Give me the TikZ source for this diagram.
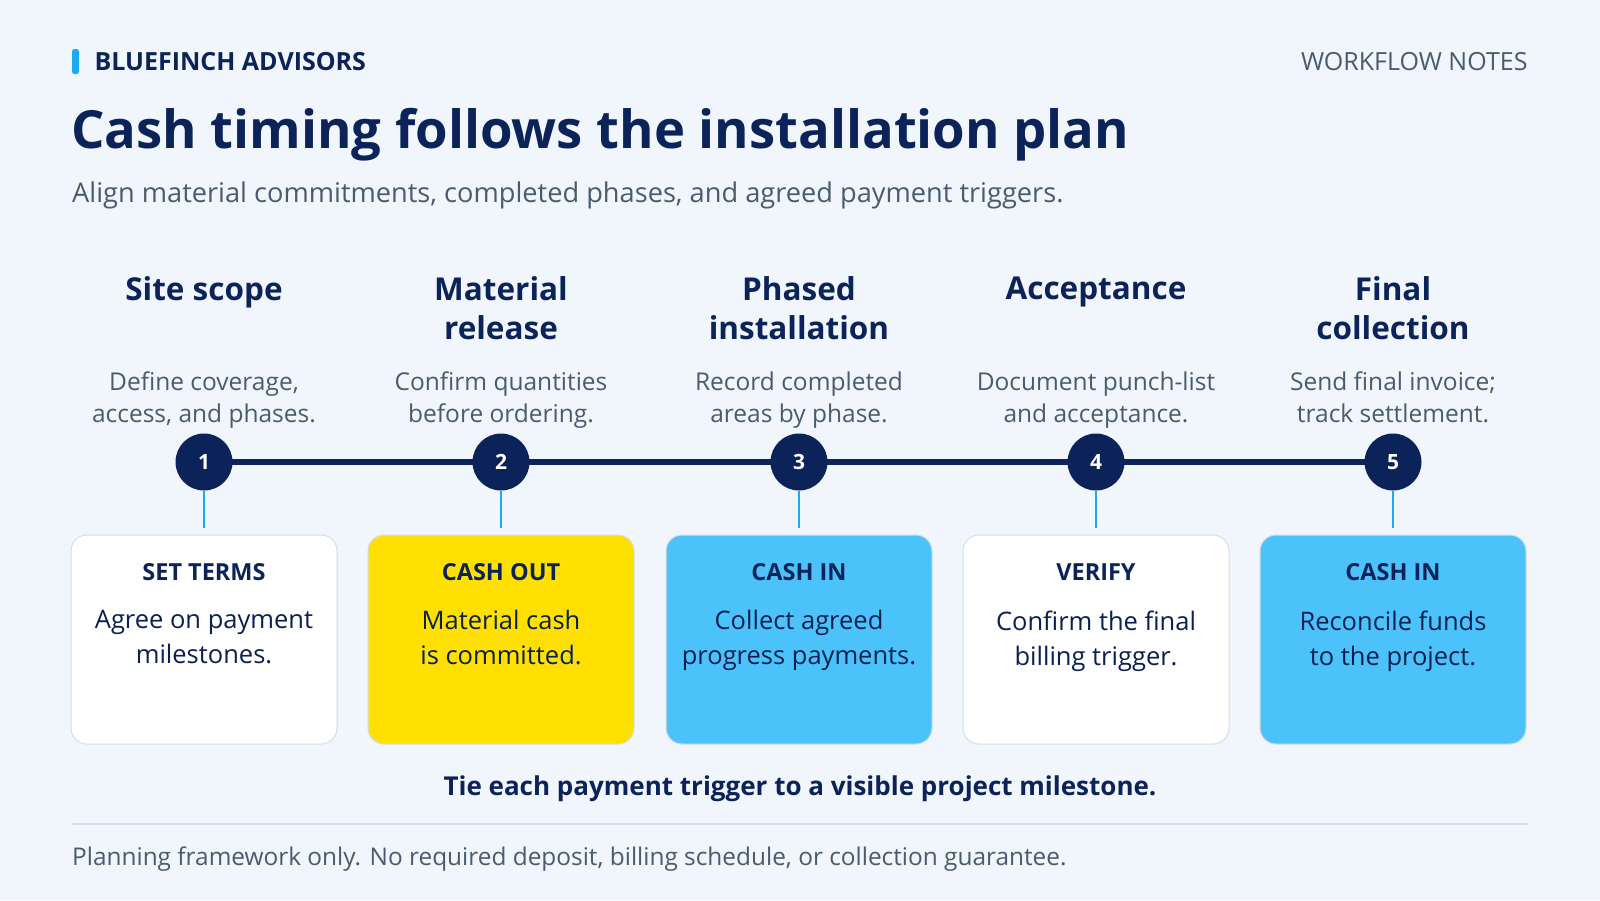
\documentclass[tikz,border=0pt]{standalone}
\usepackage{fontspec}
\setmainfont{Open Sans}
\usetikzlibrary{positioning}
\definecolor{navy}{HTML}{0B2359}
\definecolor{slate}{HTML}{4A5B70}
\definecolor{pagebg}{HTML}{F0F6FB}
\definecolor{sun}{HTML}{FFE000}
\definecolor{sky}{HTML}{4BC3FA}
\definecolor{tick}{HTML}{1BA9F0}
\definecolor{edge}{HTML}{D3DEE8}
\tikzset{
  head/.style={font=\fontsize{31.5}{39}\selectfont\bfseries, text=navy, align=center},
  desc/.style={font=\fontsize{24.5}{32}\selectfont, text=slate, align=center},
  stepdot/.style={circle, fill=navy, minimum size=57pt, inner sep=0pt, text=white, font=\fontsize{21}{21}\selectfont\bfseries},
  card/.style={draw=edge, line width=1pt, rounded corners=16pt, minimum width=266pt, minimum height=209pt},
  tag/.style={font=\fontsize{23.5}{23.5}\selectfont\bfseries, text=navy},
  body/.style={font=\fontsize{25.5}{35}\selectfont, text=navy!90!black, align=center}
}
\begin{document}
\begin{tikzpicture}[x=1pt, y=-1pt]
  \fill[pagebg] (0,0) rectangle (1600,900);
  \useasboundingbox (0,0) rectangle (1600,900);
  \fill[tick, rounded corners=2.5pt] (72,49) rectangle (79,74);
  \node[anchor=west, font=\fontsize{25}{25}\selectfont\bfseries, text=navy] (brand) at (91,62) {BLUEFINCH ADVISORS};
  \node[anchor=east, font=\fontsize{25}{25}\selectfont, text=slate] (notes) at (1531,62) {WORKFLOW NOTES};
  \node[anchor=west, inner sep=0pt, font=\fontsize{52.6}{52.6}\selectfont\bfseries, text=navy] (title) at (71,135) {Cash timing follows the installation plan};
  \node[anchor=west, inner sep=0pt, font=\fontsize{27.2}{27.2}\selectfont, text=slate] (sub) at (72,195) {Align material commitments, completed phases, and agreed payment triggers.};
  % milestones
  \foreach \i/\x/\h/\d/\t/\b/\c in {
      1/204/Site scope/{Define coverage,\\access, and phases.}/SET TERMS/{Agree on payment\\milestones.}/white,
      2/501/{Material\\release}/{Confirm quantities\\before ordering.}/CASH OUT/{Material cash\\is committed.}/sun,
      3/799/{Phased\\installation}/{Record completed\\areas by phase.}/CASH IN/{Collect agreed\\progress payments.}/sky,
      4/1096/Acceptance/{Document punch-list\\and acceptance.}/VERIFY/{Confirm the final\\billing trigger.}/white,
      5/1393/{Final\\collection}/{Send final invoice;\\track settlement.}/CASH IN/{Reconcile funds\\to the project.}/sky}{
    \node[head, anchor=north] (h\i) at (\x,273) {\h};
    \node[desc, anchor=north] (d\i) at (\x,368) {\d};
    \node[card, fill=\c] (c\i) at (\x,639.5) {};
    \node[tag] (t\i) at (\x,572) {\t};
    \node[body, anchor=north] (b\i) at (\x,607) {\b};
  }
  \draw[navy, line width=6pt] (204,462) -- (1393,462);
  \foreach \i/\x in {1/204,2/501,3/799,4/1096,5/1393}{
    \node[stepdot] (s\i) at (\x,462) {\i};
    \draw[tick, line width=2.5pt] (s\i.south) -- (\x,528);
  }
  \node[font=\fontsize{26}{26}\selectfont\bfseries, text=navy] (tie) at (800,789) {Tie each payment trigger to a visible project milestone.};
  \draw[edge, line width=1.5pt] (72,824) -- (1528,824);
  \node[anchor=west, inner sep=0pt, font=\fontsize{24.4}{24.4}\selectfont, text=slate] (foot) at (72,859) {Planning framework only. No required deposit, billing schedule, or collection guarantee.};
\end{tikzpicture}
\end{document}
